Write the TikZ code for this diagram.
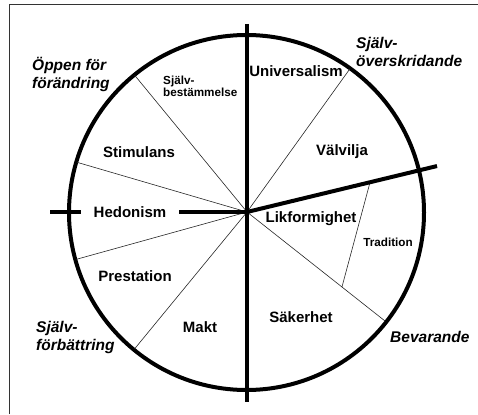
\documentclass[tikz,border=0pt]{standalone}
\usepackage{fontspec}
\setmainfont{Liberation Sans}
\usetikzlibrary{calc}
\begin{document}
\begin{tikzpicture}[x=1pt,y=1pt,
  lbl/.style={font=\fontsize{15}{18}\selectfont\bfseries, anchor=base, inner sep=0pt},
  smalllbl/.style={font=\fontsize{11.7}{12}\selectfont\bfseries, inner sep=0pt},
  grp/.style={font=\fontsize{15.5}{18}\selectfont\bfseries\itshape, align=left, anchor=west, inner sep=0pt},
  thinline/.style={line width=0.6pt, black!85},
  thickline/.style={line width=4pt},
  frameline/.style={line width=1pt, black!80}]
\useasboundingbox (0,0) rectangle (478,-414);
% frame
\coordinate (f1) at (9,-414);
\coordinate (f2) at (9,-5);
\coordinate (f3) at (478,-5);
\draw[frameline] (f1) -- (f2) -- (f3);
% circle
\coordinate (C) at (247,-212);
\coordinate (CC) at (246.5,-212.5);
\draw[thickline] (CC) circle (177.5pt);
% thin sector lines
\coordinate (a1) at ($(C)+(129.4:177pt)$);
\coordinate (a2) at ($(C)+(163.7:177pt)$);
\coordinate (a3) at ($(C)+(195.5:177pt)$);
\coordinate (a4) at ($(C)+(230.6:177pt)$);
\coordinate (a5) at ($(C)+(54.3:176pt)$);
\coordinate (a6) at ($(C)+(-38.3:176pt)$);
\foreach \p in {a1,a2,a3,a4,a5,a6} \draw[thinline] (C) -- (\p);
% tradition line
\coordinate (q1) at ($(C)+(13.6:126.6pt)$);
\coordinate (q2) at ($(C)+(-38.3:121pt)$);
\draw[thinline] (q1) -- (q2);
% axes
\coordinate (T) at (247,-24);
\coordinate (B) at (247,-402);
\coordinate (L) at (50,-212);
\coordinate (E) at ($(C)+(13.6:195.5pt)$);
\draw[thickline] (T) -- (B);
\draw[thickline] (L) -- (C);
\draw[thickline] (C) -- (E);
% value labels
\node[lbl] (univ) at (296,-76.5) {Universalism};
\node[lbl] (stim) at (139,-157.5) {Stimulans};
\node[lbl] (valv) at (342,-155.5) {Välvilja};
\node[lbl, fill=white, inner xsep=12.5pt, inner ysep=2pt] (hed) at (130,-217.5) {Hedonism};
\node[lbl] (likf) at (311,-222.5) {Likformighet};
\node[lbl] (prest) at (135,-281.5) {Prestation};
\node[lbl] (makt) at (200,-332.5) {Makt};
\node[lbl] (saker) at (301,-322.5) {Säkerhet};
\node[smalllbl, anchor=base] (trad) at (388,-246) {Tradition};
\node[smalllbl, align=left, anchor=west] (sjb) at (163,-86) {Själv-\\bestämmelse};
% group labels
\node[grp] (oppen) at (32,-74) {Öppen för\\förändring};
\node[grp] (sjov) at (356,-52) {Själv-\\överskridande};
\node[grp] (sjfb) at (36,-337.5) {Själv-\\förbättring};
\node[grp] (bev) at (390,-337) {Bevarande};
\end{tikzpicture}
\end{document}
